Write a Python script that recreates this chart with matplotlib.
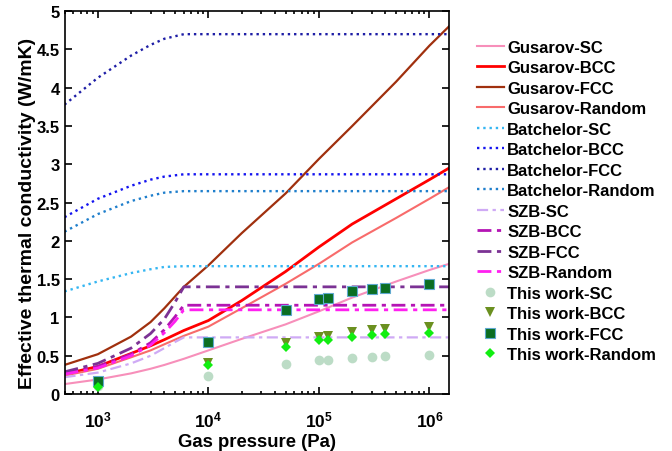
import matplotlib
matplotlib.use('Agg')
import matplotlib.pyplot as plt
from matplotlib.ticker import MultipleLocator, FixedLocator, LogLocator, NullFormatter, FormatStrFormatter
import numpy as np

plt.rcParams['font.family'] = ['Liberation Sans', 'DejaVu Sans']
plt.rcParams['font.weight'] = 'bold'
plt.rcParams['mathtext.fontset'] = 'custom'
plt.rcParams['mathtext.rm'] = 'Liberation Sans:bold'
plt.rcParams['mathtext.bf'] = 'Liberation Sans:bold'

# Gusarov model
p_gus = [500, 1e3, 2e3, 3e3, 4e3, 6e3, 1e4, 2e4, 5e4, 1e5, 2e5, 5e5, 1e6, 1.5e6]
gus_sc = [0.13, 0.19, 0.27, 0.33, 0.38, 0.46, 0.57, 0.72, 0.91, 1.08, 1.26, 1.47, 1.62, 1.70]
gus_bcc = [0.26, 0.36, 0.53, 0.63, 0.71, 0.83, 0.96, 1.22, 1.60, 1.92, 2.22, 2.55, 2.80, 2.95]
gus_fcc = [0.38, 0.52, 0.75, 0.94, 1.12, 1.40, 1.68, 2.10, 2.62, 3.07, 3.50, 4.08, 4.55, 4.80]
gus_rand = [0.24, 0.33, 0.48, 0.57, 0.65, 0.76, 0.88, 1.12, 1.44, 1.70, 1.98, 2.30, 2.55, 2.70]

# Batchelor model
p_bat = [500, 1e3, 2e3, 3e3, 4e3, 6e3, 1.5e6]
bat_sc = [1.34, 1.47, 1.58, 1.63, 1.66, 1.67, 1.67]
bat_bcc = [2.31, 2.55, 2.72, 2.80, 2.84, 2.87, 2.87]
bat_fcc = [3.78, 4.13, 4.42, 4.56, 4.64, 4.70, 4.70]
bat_rand = [2.12, 2.35, 2.52, 2.59, 2.63, 2.65, 2.65]

# SZB model
p_szb = [500, 1e3, 2e3, 3e3, 4e3, 5e3, 6e3, 1.5e6]
szb_sc = [0.22, 0.28, 0.40, 0.50, 0.60, 0.68, 0.74, 0.74]
szb_bcc = [0.27, 0.36, 0.52, 0.67, 0.84, 1.01, 1.16, 1.16]
szb_fcc = [0.29, 0.40, 0.60, 0.79, 0.98, 1.20, 1.40, 1.40]
szb_rand = [0.26, 0.34, 0.50, 0.64, 0.80, 0.95, 1.10, 1.10]

# this work
p_exp = [1e3, 1e4, 5e4, 1e5, 1.2e5, 2e5, 3e5, 4e5, 1e6]
tw_sc = [0.10, 0.24, 0.39, 0.44, 0.45, 0.47, 0.49, 0.50, 0.51]
tw_bcc = [0.13, 0.41, 0.67, 0.75, 0.76, 0.81, 0.83, 0.85, 0.88]
tw_fcc = [0.17, 0.68, 1.10, 1.24, 1.26, 1.34, 1.37, 1.39, 1.44]
tw_rand = [0.09, 0.38, 0.62, 0.70, 0.71, 0.75, 0.77, 0.78, 0.80]

font = 12

fig = plt.figure(figsize=(6.72, 4.52), dpi=100)
ax = fig.add_axes([0.096, 0.126, 0.572, 0.847])

ax.plot(p_gus, gus_sc, color='#f78fba', lw=1.5, label='Gusarov-SC')
ax.plot(p_gus, gus_bcc, color='#ff0000', lw=2, label='Gusarov-BCC')
ax.plot(p_gus, gus_fcc, color='#a0300e', lw=1.6, label='Gusarov-FCC')
ax.plot(p_gus, gus_rand, color='#f86b6b', lw=1.5, label='Gusarov-Random')

ax.plot(p_bat, bat_sc, color='#35b6f2', lw=1.7, ls=':', label='Batchelor-SC')
ax.plot(p_bat, bat_bcc, color='#1414f0', lw=1.7, ls=':', label='Batchelor-BCC')
ax.plot(p_bat, bat_fcc, color='#1e1ea6', lw=1.7, ls=':', label='Batchelor-FCC')
ax.plot(p_bat, bat_rand, color='#1f7fcc', lw=1.7, ls=':', label='Batchelor-Random')

dd = (0, (5, 2, 1.5, 2))
ax.plot(p_szb, szb_sc, color='#cfaaf5', lw=1.6, ls=dd, label='SZB-SC')
ax.plot(p_szb, szb_bcc, color='#b414b4', lw=2, ls=dd, label='SZB-BCC')
ax.plot(p_szb, szb_fcc, color='#7b3294', lw=2, ls=dd, label='SZB-FCC')
ax.plot(p_szb, szb_rand, color='#ff20f0', lw=2, ls=dd, label='SZB-Random')

ax.plot(p_exp, tw_sc, 'o', color='#bcdcc6', ms=7, mew=0, label='This work-SC')
ax.plot(p_exp, tw_bcc, 'v', color='#6b9020', ms=7.5, mew=0, label='This work-BCC')
ax.plot(p_exp, tw_fcc, 's', color='#0b6e22', mec='#5fa9d0', mew=0.8, ms=6.5, label='This work-FCC')
ax.plot(p_exp, tw_rand, 'D', color='#11ee11', ms=5.5, mew=0, label='This work-Random')

ax.set_xscale('log')
ax.set_xlim(500, 1.5e6)
ax.set_ylim(0, 5)
ax.xaxis.set_major_locator(FixedLocator([1e3, 1e4, 1e5, 1e6]))
ax.set_xticklabels([r'$\mathbf{10^3}$', r'$\mathbf{10^4}$', r'$\mathbf{10^5}$', r'$\mathbf{10^6}$'])
ax.xaxis.set_minor_locator(LogLocator(base=10, subs=np.arange(2, 10)))
ax.xaxis.set_minor_formatter(NullFormatter())
ax.yaxis.set_major_locator(MultipleLocator(0.5))
ax.yaxis.set_major_formatter(FormatStrFormatter('%g'))
ax.tick_params(axis='both', which='both', direction='in', top=True, right=True,
               labelsize=font, width=1.2)
ax.tick_params(axis='both', which='major', length=5)
ax.tick_params(axis='both', which='minor', length=2.5)
ax.tick_params(axis='x', which='major', labelsize=12.5, pad=11)
for s in ax.spines.values():
    s.set_linewidth(1.2)

ax.set_xlabel('Gas pressure (Pa)', fontsize=13.3, fontweight='bold', labelpad=3)
ax.set_ylabel('Effective thermal conductivity (W/mK)', fontsize=14, fontweight='bold')
ax.yaxis.set_label_coords(-0.075, 0.475)

fig.legend(loc='upper left', bbox_to_anchor=(0.70, 0.925), frameon=False,
           fontsize=12, handlelength=1.6, handletextpad=0.2, labelspacing=0.33,
           borderaxespad=0)

fig.savefig('out.png', dpi=100)
